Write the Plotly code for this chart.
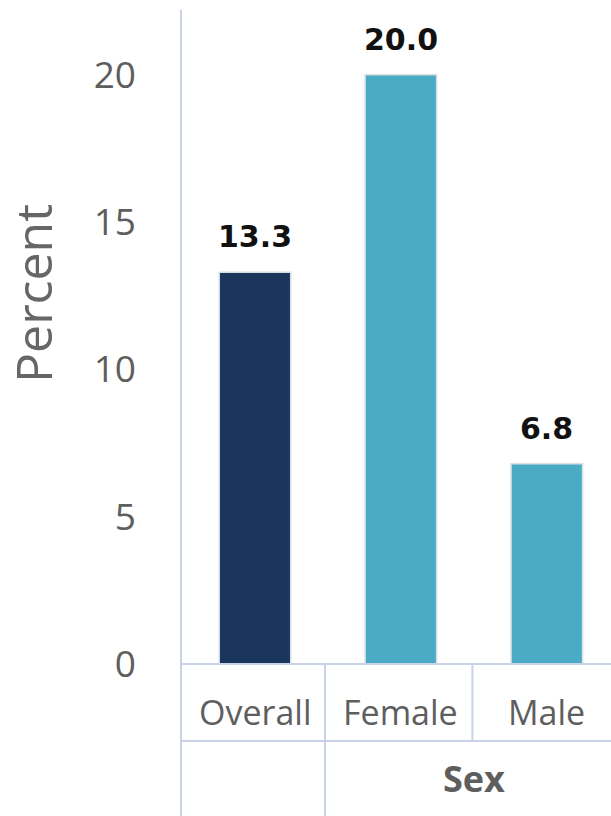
import plotly.graph_objects as go

# Data
categories = ["Overall", "Female", "Male"]
values = [13.3, 20.0, 6.8]
bar_colors = ["#1b365d", "#4aabc5", "#4aabc5"]
group_label = "Sex"
y_ticks = [0, 5, 10, 15, 20]

W, H = 611, 816
M_L, M_R, M_T, M_B = 181, 0, 10, 152
plot_h = H - M_T - M_B
LINE = "#c8d2e8"

def py(pix):
    """Convert a pixel row (from top) into paper y."""
    return (H - M_B - pix) / plot_h

x_idx = list(range(len(categories)))

fig = go.Figure()
fig.add_trace(go.Bar(
    x=x_idx,
    y=values,
    width=0.49,
    marker=dict(color=bar_colors, line=dict(color="#d9dee4", width=1.5)),
    hoverinfo="skip",
))

# value labels above bars
for xi, v in zip(x_idx, values):
    fig.add_annotation(
        x=xi, y=v, xref="x", yref="y",
        text=f"<b>{v:.1f}</b>", showarrow=False,
        yanchor="bottom", yshift=16,
        font=dict(family="DejaVu Sans", size=30, color="#111111"),
    )

# category labels in the table under the axis
for xi, c in zip(x_idx, categories):
    fig.add_annotation(
        x=xi, y=py(712), xref="x", yref="paper",
        text=c, showarrow=False, yanchor="middle",
        font=dict(family="Open Sans", size=34, color="#5e5e5e"),
    )

fig.add_annotation(
    x=1.5, y=py(778), xref="x", yref="paper",
    text=f"<b>{group_label}</b>", showarrow=False, yanchor="middle",
    font=dict(family="Open Sans", size=36, color="#5e5e5e"),
)

# y axis title
fig.add_annotation(
    x=(33 - M_L) / (W - M_L - M_R), y=py(294), xref="paper", yref="paper",
    text="Percent", showarrow=False, textangle=-90,
    xanchor="center", yanchor="middle",
    font=dict(family="Open Sans", size=50, color="#666666"),
)

# table lines and axis line
shapes = [
    dict(type="line", xref="paper", yref="paper", x0=0, x1=0, y0=py(H), y1=1,
         line=dict(color=LINE, width=2)),
    dict(type="line", xref="paper", yref="paper", x0=0, x1=1, y0=0, y1=0,
         line=dict(color=LINE, width=2)),
    dict(type="line", xref="paper", yref="paper", x0=0, x1=1, y0=py(741), y1=py(741),
         line=dict(color=LINE, width=2)),
    dict(type="line", xref="x", yref="paper", x0=0.48, x1=0.48, y0=py(H), y1=0,
         line=dict(color=LINE, width=2)),
    dict(type="line", xref="x", yref="paper", x0=1.49, x1=1.49, y0=py(741), y1=0,
         line=dict(color=LINE, width=2)),
]

fig.update_layout(
    width=W, height=H,
    margin=dict(l=M_L, r=M_R, t=M_T, b=M_B),
    paper_bgcolor="white", plot_bgcolor="white",
    showlegend=False,
    shapes=shapes,
    xaxis=dict(range=[-0.507, 2.44], showticklabels=False, showgrid=False,
               zeroline=False, showline=False, fixedrange=True),
    yaxis=dict(range=[0, 22.2], tickvals=y_ticks, showgrid=False, zeroline=False,
               showline=False, ticks="", ticklabelstandoff=44,
               tickfont=dict(family="Open Sans", size=37, color="#5e5e5e")),
)

fig.write_html("out.html")
